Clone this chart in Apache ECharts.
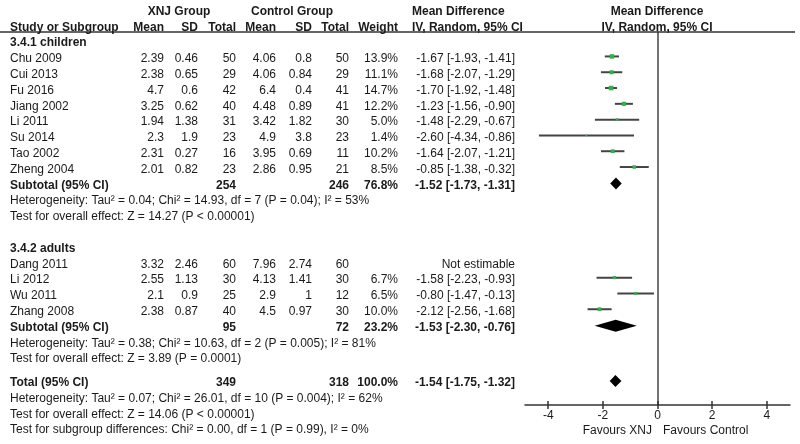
<!DOCTYPE html>
<html><head><meta charset="utf-8">
<script src="https://cdn.jsdelivr.net/npm/echarts@6/dist/echarts.min.js"></script>
<style>html,body{margin:0;padding:0;background:#fff}#c{width:800px;height:444px}</style>
</head><body><div id="c"></div>
<script>
// ---------- DATA ----------
const studyNames = ['Chu 2009','Cui 2013','Fu 2016','Jiang 2002','Li 2011','Su 2014','Tao 2002','Zheng 2004',
                    'Dang 2011','Li 2012','Wu 2011','Zhang 2008'];
const studyRows  = [1,2,3,4,5,6,7,8, 14,15,16,17];
const xnjMean = [2.39,2.38,4.7,3.25,1.94,2.3,2.31,2.01, 3.32,2.55,2.1,2.38];
const xnjSD   = [0.46,0.65,0.6,0.62,1.38,1.9,0.27,0.82, 2.46,1.13,0.9,0.87];
const xnjN    = [50,29,42,40,31,23,16,23, 60,30,25,40];
const ctlMean = [4.06,4.06,6.4,4.48,3.42,4.9,3.95,2.86, 7.96,4.13,2.9,4.5];
const ctlSD   = [0.8,0.84,0.4,0.89,1.82,3.8,0.69,0.95, 2.74,1.41,1,0.97];
const ctlN    = [50,29,41,41,30,23,11,21, 60,30,12,30];
const weight  = [13.9,11.1,14.7,12.2,5.0,1.4,10.2,8.5, null,6.7,6.5,10.0];
const md      = [-1.67,-1.68,-1.70,-1.23,-1.48,-2.60,-1.64,-0.85, null,-1.58,-0.80,-2.12];
const ciLow   = [-1.93,-2.07,-1.92,-1.56,-2.29,-4.34,-2.07,-1.38, null,-2.23,-1.47,-2.56];
const ciHigh  = [-1.41,-1.29,-1.48,-0.90,-0.67,-0.86,-1.21,-0.32, null,-0.93,-0.13,-1.68];

const poolNames  = ['Subtotal (95% CI)','Subtotal (95% CI)','Total (95% CI)'];
const poolRows   = [9,18,21.5];
const poolXnjN   = [254,95,349];
const poolCtlN   = [246,72,318];
const poolWeight = [76.8,23.2,100.0];
const poolMD     = [-1.52,-1.53,-1.54];
const poolLow    = [-1.73,-2.30,-1.75];
const poolHigh   = [-1.31,-0.76,-1.32];

const groupHeaders = ['3.4.1 children','3.4.2 adults'];
const groupRows    = [0,13];
const noteTexts = [
  'Heterogeneity: Tau\u00b2 = 0.04; Chi\u00b2 = 14.93, df = 7 (P = 0.04); I\u00b2 = 53%',
  'Test for overall effect: Z = 14.27 (P < 0.00001)',
  'Heterogeneity: Tau\u00b2 = 0.38; Chi\u00b2 = 10.63, df = 2 (P = 0.005); I\u00b2 = 81%',
  'Test for overall effect: Z = 3.89 (P = 0.0001)',
  'Heterogeneity: Tau\u00b2 = 0.07; Chi\u00b2 = 26.01, df = 10 (P = 0.004); I\u00b2 = 62%',
  'Test for overall effect: Z = 14.06 (P < 0.00001)',
  'Test for subgroup differences: Chi\u00b2 = 0.00, df = 1 (P = 0.99), I\u00b2 = 0%'
];
const noteRows = [10,11,19,20,22.5,23.5,24.5];
const axisTicks = [-4,-2,0,2,4];
const favourLabels = ['Favours XNJ','Favours Control'];

// ---------- LAYOUT ----------
const COL = {name:10, xm:164, xs:198, xn:236, cm:276, cs:312, cn:349, w:398, md:515};
const FONT = '"Liberation Sans", Arial, sans-serif';
const TXT = '#1a1a1a';
const cells = [];
function cell(x,row,text,align,bold){cells.push({x,row,text,align:align||'right',bold:!!bold});}

// headers
cell(179,-2,'XNJ Group','center',true);
cell(292,-2,'Control Group','center',true);
cell(412,-2,'Mean Difference','left',true);
cell(657,-2,'Mean Difference','center',true);
cell(COL.name,-1,'Study or Subgroup','left',true);
cell(COL.xm,-1,'Mean','right',true); cell(COL.xs,-1,'SD','right',true); cell(COL.xn,-1,'Total','right',true);
cell(COL.cm,-1,'Mean','right',true); cell(COL.cs,-1,'SD','right',true); cell(COL.cn,-1,'Total','right',true);
cell(COL.w,-1,'Weight','right',true);
cell(412,-1,'IV, Random, 95% CI','left',true);
cell(657,-1,'IV, Random, 95% CI','center',true);

groupHeaders.forEach((g,i)=>cell(COL.name,groupRows[i],g,'left',true));
studyNames.forEach((n,i)=>{
  const r = studyRows[i];
  cell(COL.name,r,n,'left');
  cell(COL.xm,r,String(xnjMean[i])); cell(COL.xs,r,String(xnjSD[i])); cell(COL.xn,r,String(xnjN[i]));
  cell(COL.cm,r,String(ctlMean[i])); cell(COL.cs,r,String(ctlSD[i])); cell(COL.cn,r,String(ctlN[i]));
  if (weight[i]!=null) cell(COL.w,r,weight[i].toFixed(1)+'%');
  cell(COL.md,r, md[i]==null ? 'Not estimable' : md[i].toFixed(2)+' ['+ciLow[i].toFixed(2)+', '+ciHigh[i].toFixed(2)+']');
});
poolNames.forEach((n,i)=>{
  const r = poolRows[i];
  cell(COL.name,r,n,'left',true);
  cell(COL.xn,r,String(poolXnjN[i]),'right',true);
  cell(COL.cn,r,String(poolCtlN[i]),'right',true);
  cell(COL.w,r,poolWeight[i].toFixed(1)+'%','right',true);
  cell(COL.md,r,poolMD[i].toFixed(2)+' ['+poolLow[i].toFixed(2)+', '+poolHigh[i].toFixed(2)+']','right',true);
});
noteTexts.forEach((t,i)=>cell(COL.name,noteRows[i],t,'left'));
cell(652,24.55,favourLabels[0],'right');
cell(663,24.55,favourLabels[1],'left');

// row mapping: pixel y = 43 + 15.8*row
const ROWH = 15.8, ROW0 = 43;
const fullMin = -ROW0/ROWH, fullMax = fullMin + 444/ROWH;
const fTop = 32, fBottom = 405;
const fMin = (fTop-ROW0)/ROWH, fMax = (fBottom-ROW0)/ROWH;

const studyData = [];
studyNames.forEach((n,i)=>{ if (md[i]!=null) studyData.push([md[i],ciLow[i],ciHigh[i],studyRows[i]-0.15,weight[i]]); });
const poolData = poolNames.map((n,i)=>[poolMD[i],poolLow[i],poolHigh[i],poolRows[i]-0.1]);

const chart = echarts.init(document.getElementById('c'), null, {renderer:'canvas'});
chart.setOption({
  animation:false,
  grid:[
    {left:0, top:0, width:800, height:444},
    {left:525, top:fTop, width:265, height:fBottom-fTop}
  ],
  xAxis:[
    {gridIndex:0, type:'value', min:0, max:800, show:false},
    {gridIndex:1, type:'value', position:'bottom', min:-4.85, max:4.85,
     axisLine:{show:true, onZero:false, lineStyle:{color:'#333', width:1.5}},
     axisTick:{show:true, length:4, customValues:axisTicks, lineStyle:{color:'#333', width:1.5}},
     axisLabel:{show:true, customValues:axisTicks, margin:5, fontSize:12, fontFamily:FONT, color:TXT},
     splitLine:{show:false}},
    {gridIndex:1, type:'value', position:'bottom', offset:0, min:-4.85, max:4.85,
     axisLine:{show:false, onZero:false},
     axisTick:{show:true, inside:true, length:4, customValues:axisTicks, lineStyle:{color:'#333', width:1.5}},
     axisLabel:{show:false}, splitLine:{show:false}}
  ],
  yAxis:[
    {gridIndex:0, type:'value', inverse:true, min:fullMin, max:fullMax, show:false},
    {gridIndex:1, type:'value', inverse:true, min:fMin, max:fMax,
     axisLine:{show:true, onZero:true, lineStyle:{color:'#444', width:1.5}},
     axisTick:{show:false}, axisLabel:{show:false}, splitLine:{show:false}}
  ],
  series:[
    { // header rule
      type:'custom', xAxisIndex:0, yAxisIndex:0, clip:false, silent:true,
      data:[[0,-0.7,795]],
      renderItem:(params,api)=>{
        const a = api.coord([api.value(0),api.value(1)]);
        const b = api.coord([api.value(2),api.value(1)]);
        return {type:'line', shape:{x1:a[0],y1:a[1],x2:b[0],y2:b[1]}, style:{stroke:'#333', lineWidth:1.5}};
      }
    },
    { // table text
      type:'custom', xAxisIndex:0, yAxisIndex:0, clip:false, silent:true,
      data:cells.map(c=>[c.x,c.row]),
      renderItem:(params,api)=>{
        const c = cells[params.dataIndex];
        const p = api.coord([api.value(0),api.value(1)]);
        return {type:'text', x:p[0], y:p[1],
          style:{text:c.text, align:c.align, verticalAlign:'middle',
                 font:(c.bold?'bold ':'')+'12px '+FONT, fill:TXT}};
      }
    },
    { // study CIs + squares
      type:'custom', xAxisIndex:1, yAxisIndex:1, clip:false, silent:true,
      data:studyData,
      renderItem:(params,api)=>{
        const row = api.value(3);
        const c = api.coord([api.value(0),row]);
        const l = api.coord([api.value(1),row]);
        const h = api.coord([api.value(2),row]);
        const s = Math.max(1.5, 1.2*Math.sqrt(api.value(4)));
        return {type:'group', children:[
          {type:'line', shape:{x1:l[0],y1:l[1],x2:h[0],y2:h[1]}, style:{stroke:'#444', lineWidth:2}},
          {type:'rect', shape:{x:c[0]-s/2,y:c[1]-s/2,width:s,height:s}, style:{fill:'#2fb24a'}}
        ]};
      }
    },
    { // pooled diamonds
      type:'custom', xAxisIndex:1, yAxisIndex:1, clip:false, silent:true,
      data:poolData,
      renderItem:(params,api)=>{
        const row = api.value(3);
        const c = api.coord([api.value(0),row]);
        const l = api.coord([api.value(1),row]);
        const h = api.coord([api.value(2),row]);
        const hh = 6;
        return {type:'polygon', shape:{points:[[l[0],c[1]],[c[0],c[1]-hh],[h[0],c[1]],[c[0],c[1]+hh]]},
                style:{fill:'#000'}};
      }
    }
  ]
});
</script></body></html>
